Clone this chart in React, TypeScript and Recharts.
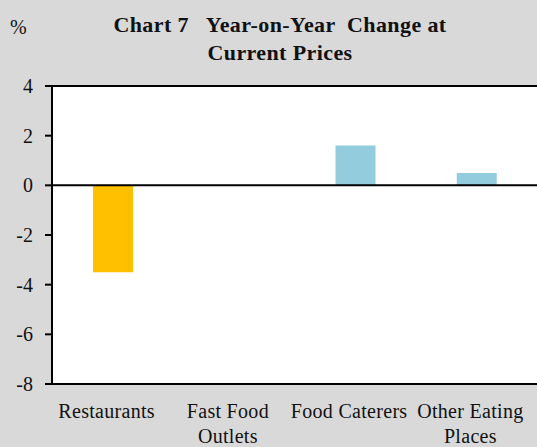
import { BarChart, Bar, Cell, XAxis, YAxis, CartesianGrid, ReferenceLine } from 'recharts'

const categories = ['Restaurants', 'Fast Food\nOutlets', 'Food Caterers', 'Other Eating\nPlaces']
const changes = [-3.5, 0, 1.6, 0.5]
const barColors = ['#ffc000', '#ffc000', '#93cddd', '#93cddd']
const yTicks = [-8, -6, -4, -2, 0, 2, 4]

const data = categories.map((c, i) => ({ name: c, value: changes[i] }))

const FONT = '"Liberation Serif", "Times New Roman", serif'

function CategoryTick(props: any) {
  const { x, y, payload } = props
  const lines = String(payload.value).split('\n')
  const cx = x - 6
  return (
    <text x={cx} y={y} textAnchor="middle" fill="#111" fontSize={20} fontFamily={FONT} letterSpacing={0.3}>
      {lines.map((l, i) => (
        <tspan key={i} x={cx} dy={i === 0 ? 26 : 25}>{l}</tspan>
      ))}
    </text>
  )
}

export default function App() {
  return (
    <div style={{ position: 'absolute', left: 0, top: 0, width: 537, height: 447, background: '#d9d9d9', fontFamily: FONT }}>
      <div style={{ position: 'absolute', left: 10, top: 16, fontSize: 20, color: '#111' }}>%</div>
      <div style={{ position: 'absolute', left: 0, top: 11, width: 560, textAlign: 'center', fontSize: 22, letterSpacing: 0.4, fontWeight: 'bold', color: '#111', whiteSpace: 'pre', lineHeight: '28px' }}>
        {'Chart 7   Year-on-Year  Change at\nCurrent Prices'}
      </div>
      <BarChart width={537} height={447} data={data} margin={{ top: 86, right: 0, left: 0, bottom: 13 }}>
        <CartesianGrid horizontal={false} vertical={false} fill="#ffffff" />
        <XAxis
          dataKey="name"
          axisLine={{ stroke: '#000', strokeWidth: 2 }}
          tickLine={false}
          height={50}
          interval={0}
          tick={<CategoryTick />}
        />
        <YAxis
          domain={[-8, 4]}
          ticks={yTicks}
          width={52}
          axisLine={{ stroke: '#000', strokeWidth: 2 }}
          tickLine={{ stroke: '#000', strokeWidth: 2 }}
          tickSize={7}
          tickMargin={12}
          tick={{ fill: '#111', fontSize: 20, fontFamily: FONT }}
        />
        <ReferenceLine y={4} stroke="#000" strokeWidth={2} />
        <Bar dataKey="value" barSize={40} isAnimationActive={false}>
          {data.map((d, i) => (
            <Cell key={i} fill={barColors[i]} />
          ))}
        </Bar>
        <ReferenceLine y={0} stroke="#000" strokeWidth={2} />
      </BarChart>
    </div>
  )
}
